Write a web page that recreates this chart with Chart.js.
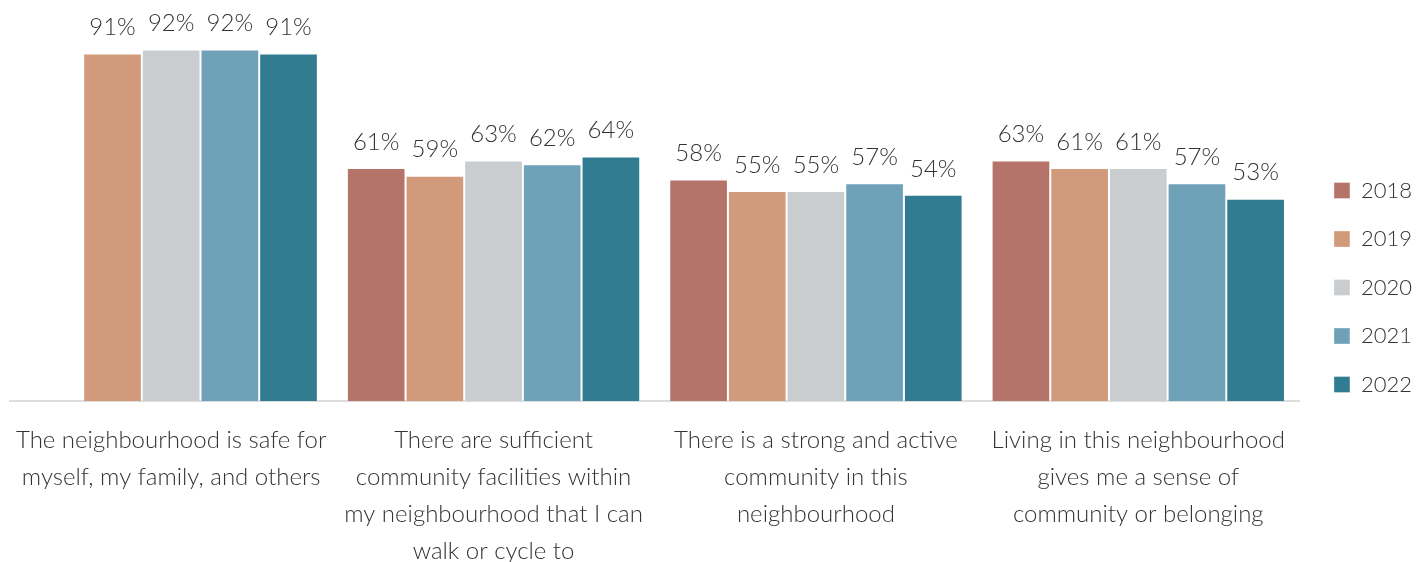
<!DOCTYPE html>
<html>
<head>
<meta charset="utf-8">
<script src="https://cdn.jsdelivr.net/npm/chart.js@4/dist/chart.umd.min.js"></script>
<style>
  html, body { margin: 0; padding: 0; background: #fff; }
  #wrap { width: 1426px; height: 562px; position: relative; }
</style>
</head>
<body>
<div id="wrap"><canvas id="c"></canvas></div>
<script>
const categories = [
  ["The neighbourhood is safe for", "myself, my family, and others"],
  ["There are sufficient", "community facilities within", "my neighbourhood that I can", "walk or cycle to"],
  ["There is a strong and active", "community in this", "neighbourhood"],
  ["Living in this neighbourhood", "gives me a sense of", "community or belonging"]
];
const years = ["2018", "2019", "2020", "2021", "2022"];
const v2018 = [null, 61, 58, 63];
const v2019 = [91, 59, 55, 61];
const v2020 = [92, 63, 55, 61];
const v2021 = [92, 62, 57, 57];
const v2022 = [91, 64, 54, 53];
const colors = ["#b5746a", "#d09a7b", "#c9cdd0", "#6fa1b9", "#317c91"];

const FONT = "Lato, 'Source Sans Pro', 'Noto Sans', sans-serif";
const seriesValues = [v2018, v2019, v2020, v2021, v2022];

// Percent labels above each bar
const barLabels = {
  id: 'barLabels',
  afterDatasetsDraw(chart) {
    const ctx = chart.ctx;
    ctx.save();
    ctx.font = `300 24px ${FONT}`;
    ctx.fillStyle = '#333';
    ctx.textAlign = 'center';
    ctx.textBaseline = 'bottom';
    chart.data.datasets.forEach((ds, i) => {
      const meta = chart.getDatasetMeta(i);
      meta.data.forEach((bar, j) => {
        const v = ds.data[j];
        if (v === null || v === undefined) return;
        ctx.fillText(v + '%', bar.x, bar.y - 14);
      });
    });
    ctx.restore();
  }
};

// Nudge the legend block a little to the right and up
const legendNudge = {
  id: 'legendNudge',
  afterLayout(chart) {
    const lg = chart.legend;
    if (!lg) return;
    lg.left += 8;
    lg.right += 8;
    lg.top -= 3;
    lg.bottom -= 3;
  }
};

new Chart(document.getElementById('c'), {
  type: 'bar',
  data: {
    labels: categories,
    datasets: years.map((y, i) => ({
      label: y,
      data: seriesValues[i],
      backgroundColor: colors[i],
      borderColor: 'rgba(255,255,255,0.35)',
      borderWidth: 1,
      borderSkipped: 'bottom',
      categoryPercentage: 0.91,
      barPercentage: 1.0
    }))
  },
  options: {
    responsive: true,
    maintainAspectRatio: false,
    animation: false,
    layout: { padding: { top: 19, left: 10, right: 12, bottom: 0 } },
    plugins: {
      legend: {
        position: 'right',
        align: 'center',
        labels: {
          font: { family: FONT, size: 22, weight: 300 },
          color: '#333',
          boxWidth: 16,
          boxHeight: 16,
          padding: 26.5
        }
      },
      tooltip: { enabled: false }
    },
    scales: {
      x: {
        grid: { display: false, drawTicks: false },
        border: { display: true, color: '#dddddd', width: 2 },
        ticks: {
          font: { family: FONT, size: 24, weight: 300, lineHeight: 1.55 },
          color: '#333',
          padding: 20,
          maxRotation: 0,
          autoSkip: false
        },
        afterFit(scale) {
          scale.height -= 28;
          scale.paddingLeft = 0;
          scale.paddingRight = 0;
        }
      },
      y: {
        display: false,
        min: 0,
        max: 100
      }
    }
  },
  plugins: [barLabels, legendNudge]
});
</script>
</body>
</html>
